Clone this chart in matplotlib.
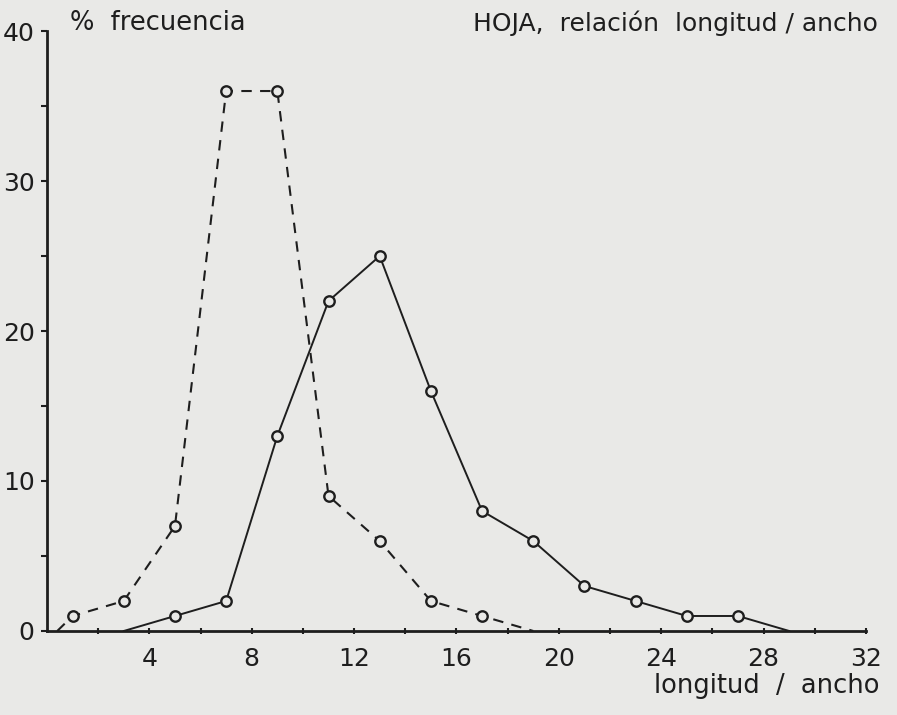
import numpy as np
import matplotlib.pyplot as plt

# data
dash_x = [0.4, 1, 3, 5, 7, 9, 11, 13, 15, 17, 19]
dash_y = [0, 1, 2, 7, 36, 36, 9, 6, 2, 1, 0]
solid_x = [3, 5, 7, 9, 11, 13, 15, 17, 19, 21, 23, 25, 27, 29]
solid_y = [0, 1, 2, 13, 22, 25, 16, 8, 6, 3, 2, 1, 1, 0]
x_ticks = [4, 8, 12, 16, 20, 24, 28, 32]
y_ticks = [0, 10, 20, 30, 40]

paper = '#e9e9e7'
ink = '#1e1e1e'

fig = plt.figure(figsize=(8.97, 7.15), dpi=100, facecolor=paper)
ax = fig.add_axes([0.0524, 0.1175, 0.9130, 0.8391])
ax.set_facecolor(paper)

# markers drawn only where the reference shows circles
ax.plot(dash_x, dash_y, color=ink, lw=1.5, ls=(0, (5, 4)))
ax.plot(dash_x[1:-1], dash_y[1:-1], ls='none', marker='o', ms=7.5,
        mfc=paper, mec=ink, mew=1.7)
ax.plot(solid_x, solid_y, color=ink, lw=1.4)
ax.plot(solid_x[1:-1], solid_y[1:-1], ls='none', marker='o', ms=7.5,
        mfc=paper, mec=ink, mew=1.7)

ax.set_xlim(0, 32)
ax.set_ylim(0, 40)
for s in ['top', 'right']:
    ax.spines[s].set_visible(False)
for s in ['left', 'bottom']:
    ax.spines[s].set_linewidth(2)
    ax.spines[s].set_color(ink)

ax.set_xticks(x_ticks)
ax.set_xticks(np.arange(2, 32, 4), minor=True)
ax.set_yticks(y_ticks)
ax.set_yticks([5, 15, 25, 35], minor=True)
ax.tick_params(axis='x', which='both', direction='inout', length=5, width=1.5,
               color=ink, labelsize=18, pad=9, labelcolor=ink)
ax.tick_params(axis='y', which='both', direction='out', length=4, width=1.5,
               color=ink, labelsize=18, pad=5, labelcolor=ink)

fig.text(0.078, 0.950, '%  frecuencia', fontsize=18.5, color=ink, va='bottom')
fig.text(0.979, 0.950, 'HOJA,  relación  longitud / ancho', fontsize=18,
         color=ink, va='bottom', ha='right')
fig.text(0.981, 0.022, 'longitud  /  ancho', fontsize=18.5, color=ink,
         va='bottom', ha='right')

fig.savefig('out.png', dpi=100, facecolor=paper)
